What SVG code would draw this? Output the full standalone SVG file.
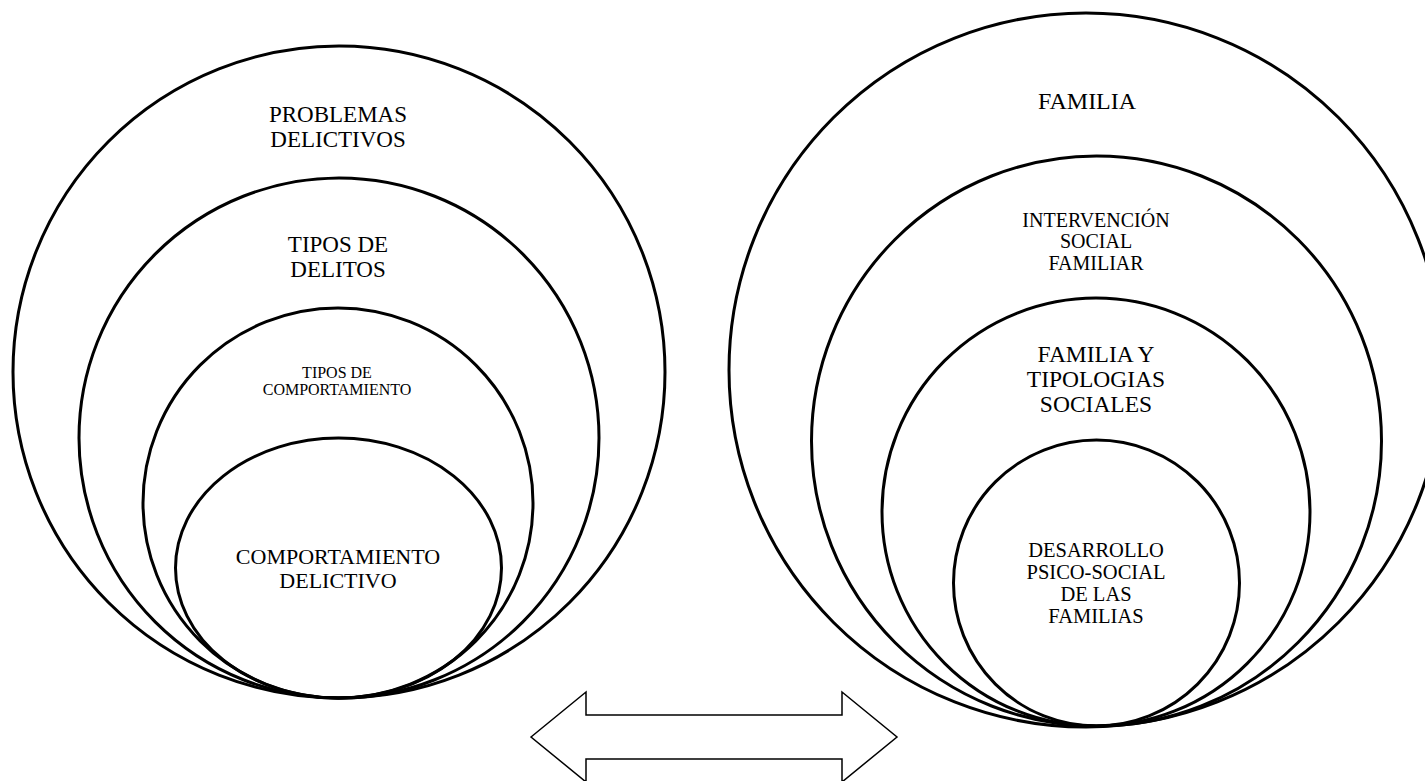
<svg xmlns="http://www.w3.org/2000/svg" width="1425" height="781" viewBox="0 0 1425 781">
<style>
.ring{fill:none;stroke:#000;stroke-width:3}
.lbl{font-family:"Liberation Serif","Times New Roman",serif;fill:#000;text-anchor:middle}
.arrow{fill:#fff;stroke:#000;stroke-width:1.5;stroke-linejoin:miter}
</style>
<rect width="1425" height="781" fill="#fff"/>
<g id="left-diagram">
<g id="problemas-delictivos">
<circle class="ring" cx="339" cy="372" r="326"/>
<text class="lbl" font-size="23"><tspan x="338" y="122">PROBLEMAS</tspan><tspan x="338" y="147">DELICTIVOS</tspan></text>
</g>
<g id="tipos-de-delitos">
<circle class="ring" cx="339" cy="438" r="260"/>
<text class="lbl" font-size="23"><tspan x="338" y="252">TIPOS DE</tspan><tspan x="338" y="277">DELITOS</tspan></text>
</g>
<g id="tipos-de-comportamiento">
<ellipse class="ring" cx="338" cy="503" rx="195" ry="195"/>
<text class="lbl" font-size="16"><tspan x="337" y="378">TIPOS DE</tspan><tspan x="337" y="395">COMPORTAMIENTO</tspan></text>
</g>
<g id="comportamiento-delictivo">
<ellipse class="ring" cx="338.5" cy="568" rx="163" ry="130"/>
<text class="lbl" font-size="22"><tspan x="338" y="564">COMPORTAMIENTO</tspan><tspan x="338" y="588">DELICTIVO</tspan></text>
</g>
</g>
<g id="right-diagram">
<g id="familia">
<circle class="ring" cx="1086" cy="370" r="357"/>
<text class="lbl" font-size="24" x="1087" y="109">FAMILIA</text>
</g>
<g id="intervencion-social-familiar">
<circle class="ring" cx="1096.5" cy="441" r="285"/>
<text class="lbl" font-size="20"><tspan x="1096" y="227">INTERVENCIÓN</tspan><tspan x="1096" y="248">SOCIAL</tspan><tspan x="1096" y="270">FAMILIAR</tspan></text>
</g>
<g id="familia-tipologias-sociales">
<circle class="ring" cx="1096" cy="512" r="214"/>
<text class="lbl" font-size="23.5"><tspan x="1096" y="362">FAMILIA Y</tspan><tspan x="1096" y="387">TIPOLOGIAS</tspan><tspan x="1096" y="412">SOCIALES</tspan></text>
</g>
<g id="desarrollo-psico-social">
<circle class="ring" cx="1096.5" cy="583" r="143"/>
<text class="lbl" font-size="20.5"><tspan x="1096" y="557">DESARROLLO</tspan><tspan x="1096" y="579">PSICO-SOCIAL</tspan><tspan x="1096" y="601">DE LAS</tspan><tspan x="1096" y="623">FAMILIAS</tspan></text>
</g>
</g>
<g id="connectors">
<polygon class="arrow" points="531,737 586,692 586,715 842,715 842,692 897,737 842,782 842,759 586,759 586,782"/>
</g>
</svg>
